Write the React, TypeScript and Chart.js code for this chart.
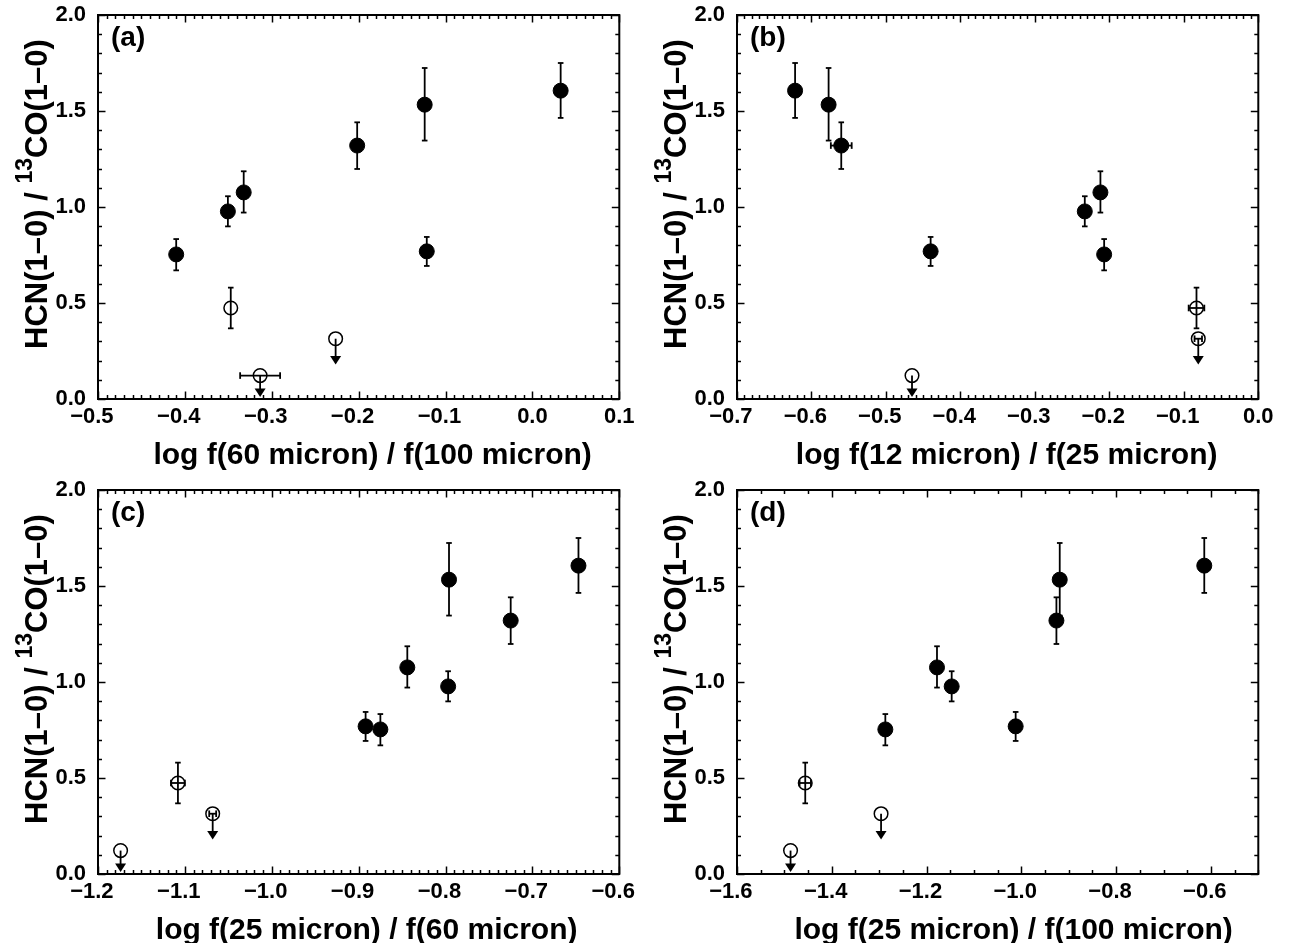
import React, { useEffect, useRef } from "react";
import { Chart, registerables } from "chart.js";

Chart.register(...registerables);

// ---- shared galaxy values (same order in every panel) ----
// first seven are detections (filled), last three are open symbols
const yValues = [1.606, 1.533, 1.32, 1.076, 0.977, 0.769, 0.753, 0.474, 0.314, 0.122];
const yErrLow = [1.464, 1.346, 1.198, 0.971, 0.899, 0.693, 0.67, 0.368, NaN, NaN];
const yErrHigh = [1.75, 1.724, 1.441, 1.186, 1.056, 0.844, 0.833, 0.58, NaN, NaN];
const detected = [true, true, true, true, true, true, true, false, false, false];
const upperLimitTo = [NaN, NaN, NaN, NaN, NaN, NaN, NaN, NaN, 0.18, 0.011];

// ---- x values per panel ----
const xPanelA = [0.0325, -0.124, -0.2017, -0.3323, -0.3505, -0.1216, -0.41, -0.3472, -0.2265, -0.3134];
const xErrA = [0, 0, 0, 0, 0, 0, 0, 0, 0, 0.023];
const xPanelB = [-0.622, -0.577, -0.56, -0.212, -0.233, -0.44, -0.207, -0.083, -0.0806, -0.465];
const xErrB = [0, 0, 0.014, 0, 0, 0, 0, 0.0105, 0.005, 0];
const xPanelC = [-0.647, -0.796, -0.725, -0.844, -0.797, -0.892, -0.875, -1.108, -1.068, -1.174];
const xErrC = [0, 0, 0, 0, 0, 0, 0, 0.008, 0.004, 0];
const xPanelD = [-0.614, -0.919, -0.926, -1.178, -1.147, -1.012, -1.287, -1.456, -1.296, -1.487];
const xErrD = [0, 0, 0, 0, 0, 0, 0, 0.012, 0, 0];

// ---- tick labels ----
const yTicks = [0.0, 0.5, 1.0, 1.5, 2.0];
const xTicksA = [-0.5, -0.4, -0.3, -0.2, -0.1, 0.0, 0.1];
const xTicksB = [-0.7, -0.6, -0.5, -0.4, -0.3, -0.2, -0.1, 0.0];
const xTicksC = [-1.2, -1.1, -1.0, -0.9, -0.8, -0.7, -0.6];
const xTicksD = [-1.6, -1.4, -1.2, -1.0, -0.8, -0.6];

const FONT = "'Liberation Sans', Arial, Helvetica, sans-serif";

type PanelCfg = {
  tag: string;
  xTitle: string;
  x: number[];
  xErr: number[];
  xMin: number;
  xMax: number;
  xTicks: number[];
  xMinor: number;
  left: number;
  top: number;
  height: number;
  titleShift: number;
};

const panels: PanelCfg[] = [
  { tag: "(a)", xTitle: "log f(60 micron) / f(100 micron)", x: xPanelA, xErr: xErrA, xMin: -0.5, xMax: 0.1, xTicks: xTicksA, xMinor: 0.01, left: 0, top: 0, height: 476, titleShift: 14 },
  { tag: "(b)", xTitle: "log f(12 micron) / f(25 micron)", x: xPanelB, xErr: xErrB, xMin: -0.7, xMax: 0.0, xTicks: xTicksB, xMinor: 0.01, left: 639, top: 0, height: 476, titleShift: 9 },
  { tag: "(c)", xTitle: "log f(25 micron) / f(60 micron)", x: xPanelC, xErr: xErrC, xMin: -1.2, xMax: -0.6, xTicks: xTicksC, xMinor: 0.01, left: 0, top: 475, height: 468, titleShift: 8 },
  { tag: "(d)", xTitle: "log f(25 micron) / f(100 micron)", x: xPanelD, xErr: xErrD, xMin: -1.6, xMax: -0.5, xTicks: xTicksD, xMinor: 0.05, left: 639, top: 475, height: 468, titleShift: 16 },
];

const fmt = (v: number) => {
  const s = Math.abs(v).toFixed(1);
  return v < -1e-9 ? "\u2212" + s + "\u2007" : s;
};

function line(ctx: CanvasRenderingContext2D, x1: number, y1: number, x2: number, y2: number) {
  ctx.beginPath();
  ctx.moveTo(x1, y1);
  ctx.lineTo(x2, y2);
  ctx.stroke();
}

function makePlugin(cfg: PanelCfg) {
  return {
    id: "frameAndBars",
    beforeDatasetsDraw(chart: any) {
      const { ctx } = chart;
      const xs = chart.scales.x;
      const ys = chart.scales.y;
      ctx.save();
      ctx.strokeStyle = "#000";
      ctx.fillStyle = "#000";
      ctx.lineWidth = 1.8;
      cfg.x.forEach((xv, i) => {
        const px = xs.getPixelForValue(xv);
        const py = ys.getPixelForValue(yValues[i]);
        if (!isNaN(yErrLow[i])) {
          const y1 = ys.getPixelForValue(yErrLow[i]);
          const y2 = ys.getPixelForValue(yErrHigh[i]);
          line(ctx, px, y1, px, y2);
          line(ctx, px - 2.8, y1, px + 2.8, y1);
          line(ctx, px - 2.8, y2, px + 2.8, y2);
        }
        const xe = cfg.xErr[i];
        if (xe > 0) {
          const x1 = xs.getPixelForValue(xv - xe);
          const x2 = xs.getPixelForValue(xv + xe);
          line(ctx, x1, py, x2, py);
          line(ctx, x1, py - 3.3, x1, py + 3.3);
          line(ctx, x2, py - 3.3, x2, py + 3.3);
        }
        if (!isNaN(upperLimitTo[i])) {
          const tip = ys.getPixelForValue(upperLimitTo[i]);
          const hh = 8.5;
          const hw = 5.5;
          line(ctx, px, py, px, tip - hh + 1);
          ctx.beginPath();
          ctx.moveTo(px - hw, tip - hh);
          ctx.lineTo(px + hw, tip - hh);
          ctx.lineTo(px, tip);
          ctx.closePath();
          ctx.fill();
        }
      });
      ctx.restore();
    },
    afterDraw(chart: any) {
      const { ctx, chartArea } = chart;
      const { left, right, top, bottom } = chartArea;
      const xs = chart.scales.x;
      const ys = chart.scales.y;
      ctx.save();
      ctx.strokeStyle = "#000";
      ctx.lineWidth = 1.5;
      // x ticks (bottom and top, inward)
      const nX = Math.round((cfg.xMax - cfg.xMin) / cfg.xMinor);
      for (let i = 0; i <= nX; i++) {
        const v = cfg.xMin + i * cfg.xMinor;
        const p = Math.round(xs.getPixelForValue(v)) + 0.5;
        const major = cfg.xTicks.some((t) => Math.abs(t - v) < 1e-6);
        const len = major ? 7.5 : 4;
        line(ctx, p, bottom, p, bottom - len);
        line(ctx, p, top, p, top + len);
      }
      // y ticks (left and right, inward)
      const nY = 20;
      for (let i = 0; i <= nY; i++) {
        const v = i * 0.1;
        const p = Math.round(ys.getPixelForValue(v)) + 0.5;
        const major = yTicks.some((t) => Math.abs(t - v) < 1e-6);
        const len = major ? 7.5 : 4;
        line(ctx, left, p, left + len, p);
        line(ctx, right, p, right - len, p);
      }
      // frame
      ctx.lineWidth = 2;
      ctx.strokeRect(left, top, right - left, bottom - top);

      // panel tag
      ctx.fillStyle = "#000";
      ctx.font = `bold 28px ${FONT}`;
      ctx.textAlign = "left";
      ctx.textBaseline = "middle";
      ctx.fillText(cfg.tag, left + 13, top + 23);

      // x title
      ctx.font = `bold 30px ${FONT}`;
      ctx.textAlign = "center";
      ctx.textBaseline = "alphabetic";
      ctx.fillText(cfg.xTitle, (left + right) / 2 + cfg.titleShift, bottom + 65);

      // y title with superscript
      const p1 = "HCN(1\u20130) / ";
      const p2 = "13";
      const p3 = "CO(1\u20130)";
      const big = `bold 31px ${FONT}`;
      const small = `bold 23px ${FONT}`;
      ctx.font = big;
      const w1 = ctx.measureText(p1).width;
      const w3 = ctx.measureText(p3).width;
      ctx.font = small;
      const w2 = ctx.measureText(p2).width;
      const total = w1 + w2 + w3;
      const cy = (top + bottom) / 2 - 13;
      ctx.translate(47, cy);
      ctx.rotate(-Math.PI / 2);
      ctx.textAlign = "left";
      ctx.textBaseline = "alphabetic";
      let sx = -total / 2;
      ctx.font = big;
      ctx.fillText(p1, sx, 0);
      sx += w1;
      ctx.font = small;
      ctx.fillText(p2, sx, -15);
      sx += w2;
      ctx.font = big;
      ctx.fillText(p3, sx, 0);
      ctx.restore();
    },
  };
}

function Panel({ cfg }: { cfg: PanelCfg }) {
  const ref = useRef<HTMLCanvasElement>(null);
  useEffect(() => {
    const filled: { x: number; y: number }[] = [];
    const open: { x: number; y: number }[] = [];
    cfg.x.forEach((xv, i) => {
      (detected[i] ? filled : open).push({ x: xv, y: yValues[i] });
    });
    const tickFont = { family: FONT, size: 22, weight: "bold" as const };
    const chart = new Chart(ref.current as HTMLCanvasElement, {
      type: "scatter",
      data: {
        datasets: [
          {
            data: filled,
            pointRadius: 7.5,
            pointHoverRadius: 7.5,
            pointBackgroundColor: "#000",
            pointBorderColor: "#000",
            pointBorderWidth: 1,
          },
          {
            data: open,
            pointRadius: 6.8,
            pointHoverRadius: 6.8,
            pointBackgroundColor: "rgba(0,0,0,0)",
            pointBorderColor: "#000",
            pointBorderWidth: 1.5,
          },
        ],
      },
      options: {
        animation: false,
        responsive: false,
        events: [],
        layout: { padding: { left: 0, top: 15, right: 28.7, bottom: cfg.height - 468 } },
        plugins: { legend: { display: false }, tooltip: { enabled: false } },
        scales: {
          x: {
            type: "linear",
            min: cfg.xMin,
            max: cfg.xMax,
            grid: { display: false, drawTicks: false },
            border: { display: false },
            afterBuildTicks: (s: any) => {
              s.ticks = cfg.xTicks.map((v) => ({ value: v }));
            },
            afterFit: (s: any) => {
              s.height = 69;
              s.paddingLeft = 0;
              s.paddingRight = 0;
            },
            ticks: {
              padding: 5,
              color: "#000",
              font: tickFont,
              maxRotation: 0,
              autoSkip: false,
              callback: (v: any) => fmt(Number(v)),
            },
          },
          y: {
            type: "linear",
            min: 0,
            max: 2,
            grid: { display: false, drawTicks: false },
            border: { display: false },
            afterBuildTicks: (s: any) => {
              s.ticks = yTicks.map((v) => ({ value: v }));
            },
            afterFit: (s: any) => {
              s.width = 98;
              s.paddingTop = 0;
              s.paddingBottom = 0;
            },
            ticks: {
              padding: 12,
              color: "#000",
              font: tickFont,
              autoSkip: false,
              callback: (v: any) => fmt(Number(v)),
            },
          },
        },
      },
      plugins: [makePlugin(cfg)],
    } as any);
    return () => chart.destroy();
  }, [cfg]);
  return (
    <canvas
      ref={ref}
      width={648}
      height={cfg.height}
      style={{ position: "absolute", left: cfg.left, top: cfg.top, width: 648, height: cfg.height }}
    />
  );
}

export default function App() {
  return (
    <div
      style={{
        position: "fixed",
        left: 0,
        top: 0,
        width: 1296,
        height: 943,
        background: "#fff",
        overflow: "hidden",
      }}
    >
      {panels.map((p) => (
        <Panel key={p.tag} cfg={p} />
      ))}
    </div>
  );
}
